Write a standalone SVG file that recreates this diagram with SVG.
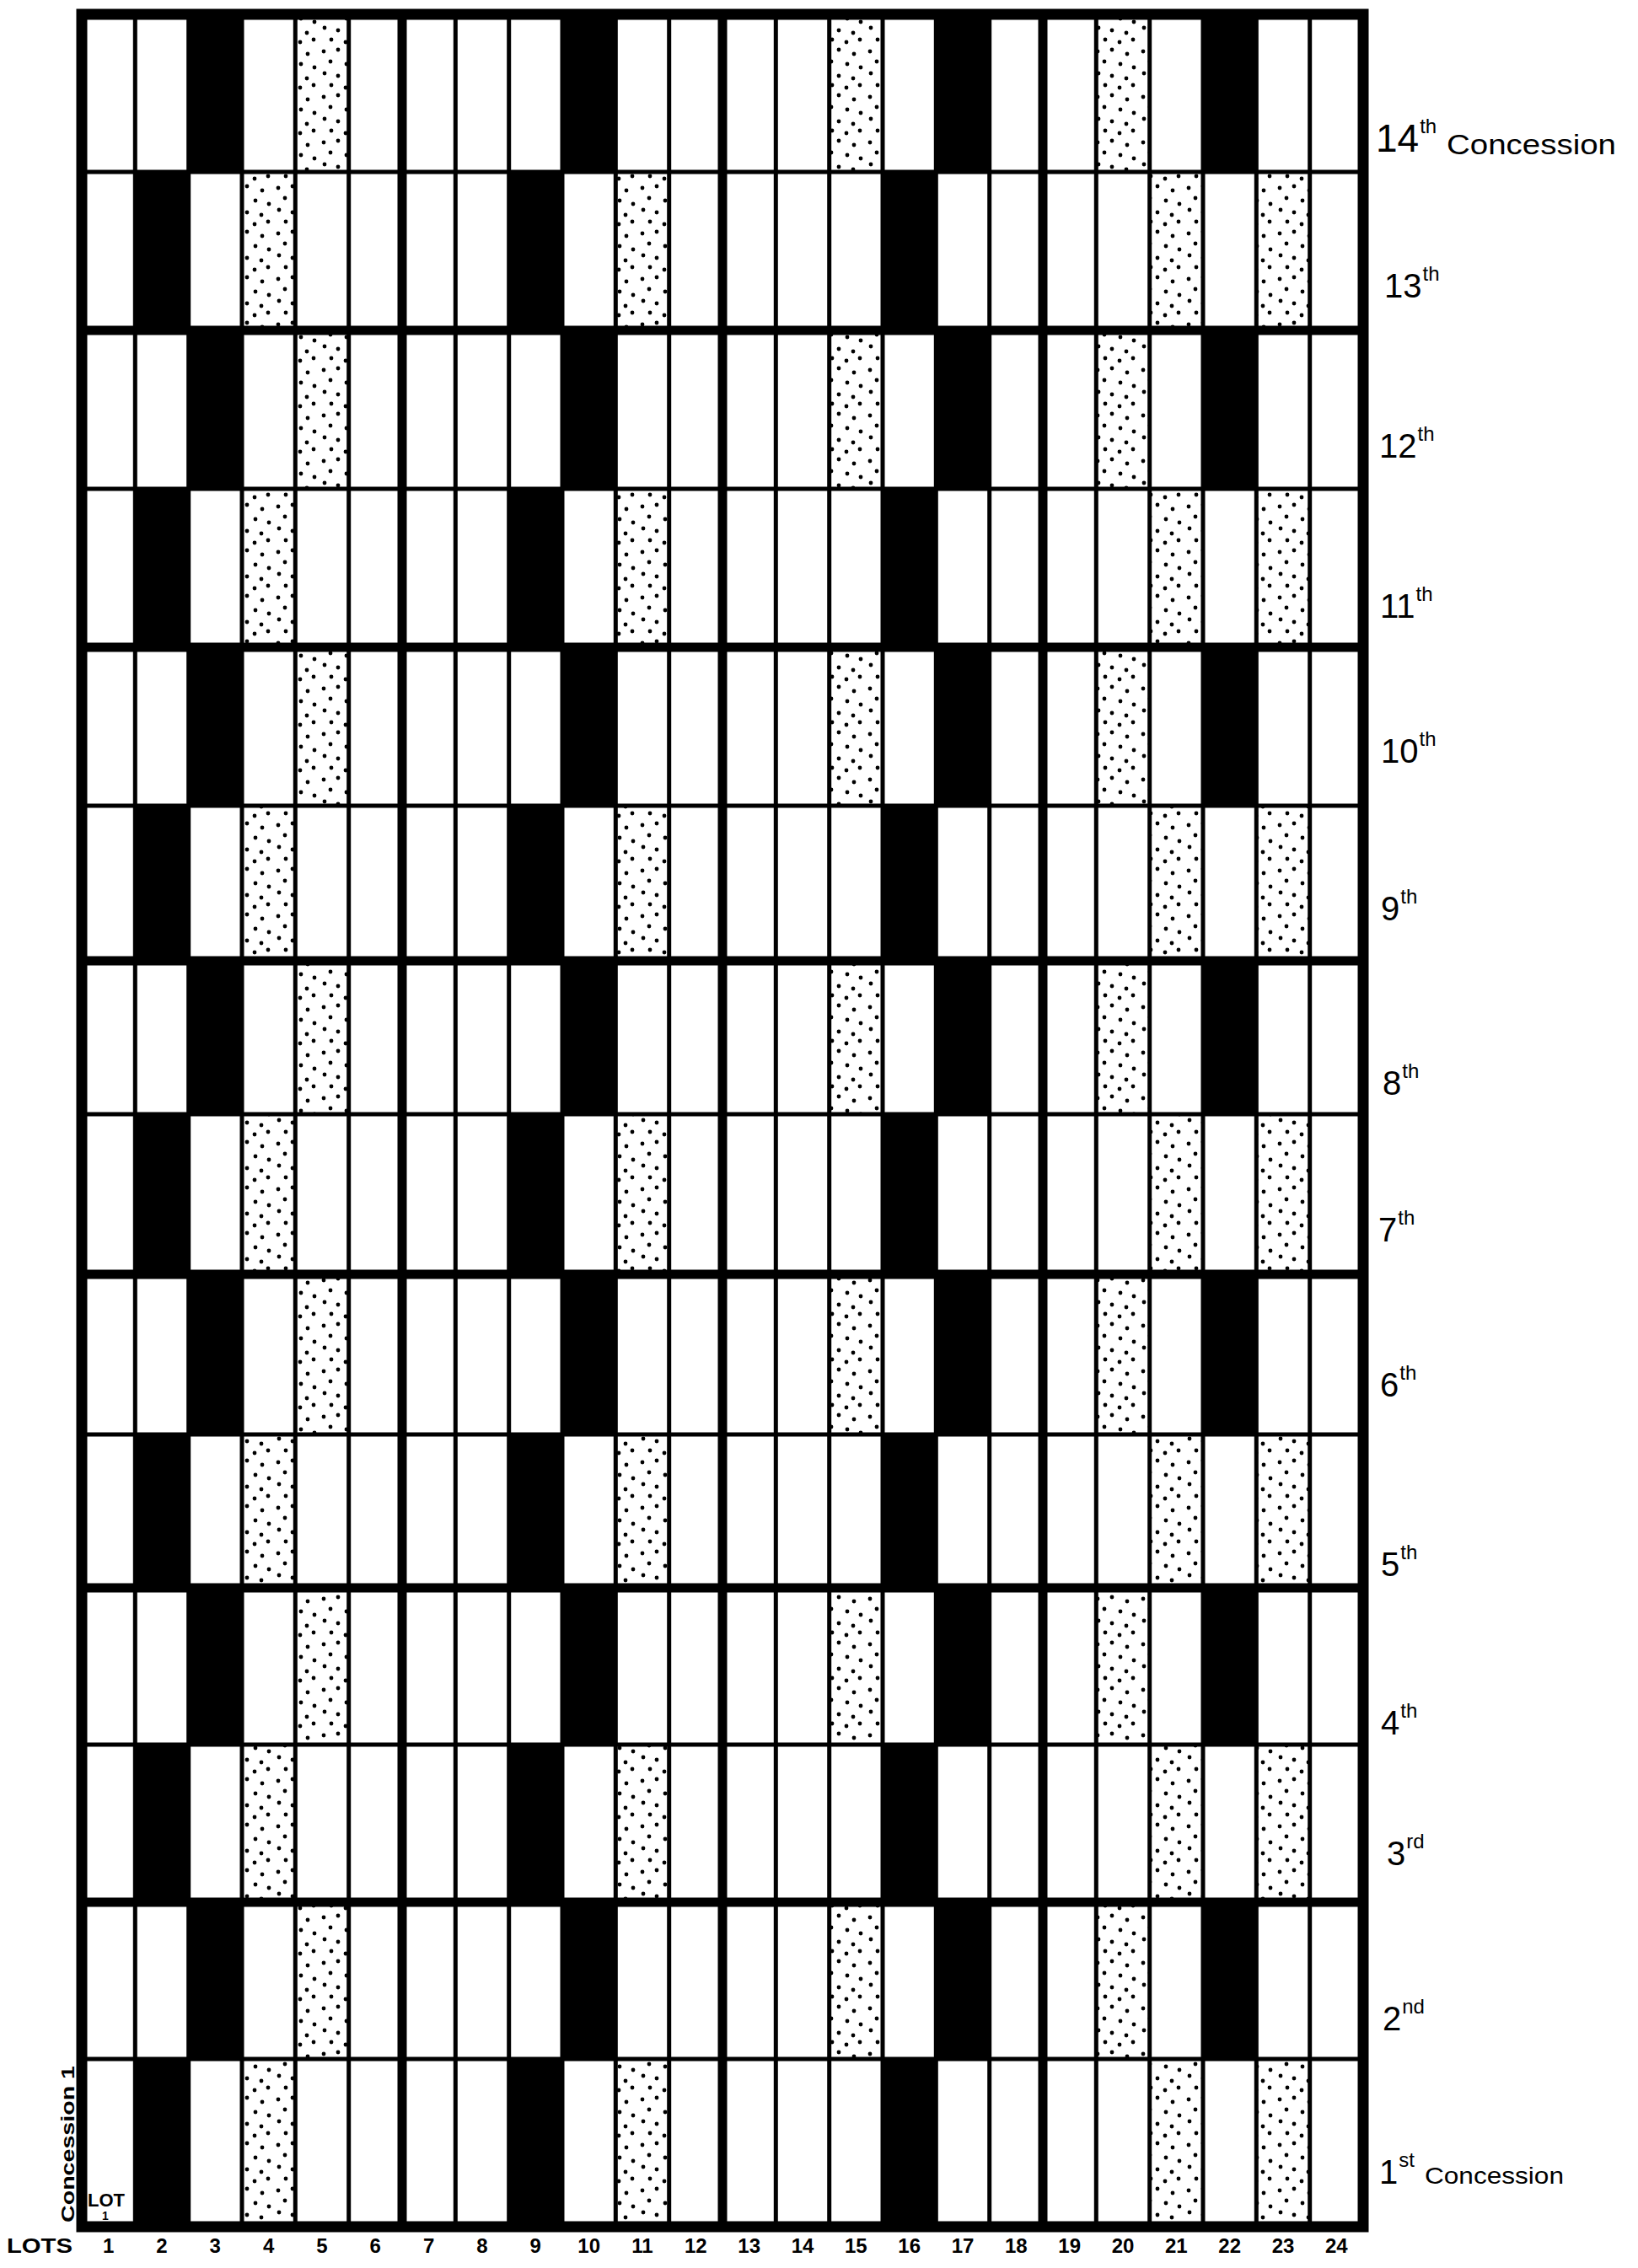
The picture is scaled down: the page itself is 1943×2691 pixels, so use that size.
<svg xmlns="http://www.w3.org/2000/svg" width="1943" height="2691" viewBox="0 0 1943 2691">
<style>
.b{fill:#000}
.d{fill:url(#dots)}
.thin{stroke:#000;stroke-width:5;fill:none}
.thick{stroke:#000;stroke-width:11;fill:none}
.border{stroke:#000;stroke-width:13;fill:none}
.lab{font-family:"Liberation Sans",Arial,sans-serif;font-size:40px;fill:#000}
.sup{font-size:24px}
.con{font-family:"Liberation Sans",Arial,sans-serif;fill:#000}
.lot{font-family:"Liberation Sans",Arial,sans-serif;font-size:24px;font-weight:bold;fill:#000;text-anchor:middle}
</style>
<defs>
<pattern id="dots" patternUnits="userSpaceOnUse" width="54" height="54">
<rect width="54" height="54" fill="#fff"/>
<g fill="#000">
<circle cx="6" cy="7" r="2.4"/><circle cx="23" cy="5" r="2.4"/><circle cx="41" cy="10" r="2.4"/>
<circle cx="14" cy="19" r="2.4"/><circle cx="33" cy="22" r="2.4"/><circle cx="49" cy="26" r="2.4"/>
<circle cx="7" cy="33" r="2.4"/><circle cx="23" cy="36" r="2.4"/><circle cx="40" cy="39" r="2.4"/>
<circle cx="15" cy="47" r="2.4"/><circle cx="32" cy="50" r="2.4"/><circle cx="48" cy="47" r="2.4"/>
</g>
</pattern>
</defs>
<rect width="1943" height="2691" fill="#fff"/>

<g id="concession-14"><rect class="b" x="223.7" y="17" width="63.4" height="187"/><rect class="d" x="350.3" y="17" width="63.4" height="187"/><rect class="b" x="667" y="17" width="63.4" height="187"/><rect class="d" x="983.7" y="17" width="63.4" height="187"/><rect class="b" x="1110.3" y="17" width="63.4" height="187"/><rect class="d" x="1300.3" y="17" width="63.4" height="187"/><rect class="b" x="1427" y="17" width="63.4" height="187"/></g>
<g id="concession-13"><rect class="b" x="160.3" y="204" width="63.4" height="188"/><rect class="d" x="287" y="204" width="63.4" height="188"/><rect class="b" x="603.7" y="204" width="63.4" height="188"/><rect class="d" x="730.3" y="204" width="63.4" height="188"/><rect class="b" x="1047" y="204" width="63.4" height="188"/><rect class="d" x="1363.7" y="204" width="63.4" height="188"/><rect class="d" x="1490.3" y="204" width="63.4" height="188"/></g>
<g id="concession-12"><rect class="b" x="223.7" y="392" width="63.4" height="188"/><rect class="d" x="350.3" y="392" width="63.4" height="188"/><rect class="b" x="667" y="392" width="63.4" height="188"/><rect class="d" x="983.7" y="392" width="63.4" height="188"/><rect class="b" x="1110.3" y="392" width="63.4" height="188"/><rect class="d" x="1300.3" y="392" width="63.4" height="188"/><rect class="b" x="1427" y="392" width="63.4" height="188"/></g>
<g id="concession-11"><rect class="b" x="160.3" y="580" width="63.4" height="188"/><rect class="d" x="287" y="580" width="63.4" height="188"/><rect class="b" x="603.7" y="580" width="63.4" height="188"/><rect class="d" x="730.3" y="580" width="63.4" height="188"/><rect class="b" x="1047" y="580" width="63.4" height="188"/><rect class="d" x="1363.7" y="580" width="63.4" height="188"/><rect class="d" x="1490.3" y="580" width="63.4" height="188"/></g>
<g id="concession-10"><rect class="b" x="223.7" y="768" width="63.4" height="188"/><rect class="d" x="350.3" y="768" width="63.4" height="188"/><rect class="b" x="667" y="768" width="63.4" height="188"/><rect class="d" x="983.7" y="768" width="63.4" height="188"/><rect class="b" x="1110.3" y="768" width="63.4" height="188"/><rect class="d" x="1300.3" y="768" width="63.4" height="188"/><rect class="b" x="1427" y="768" width="63.4" height="188"/></g>
<g id="concession-9"><rect class="b" x="160.3" y="956" width="63.4" height="184"/><rect class="d" x="287" y="956" width="63.4" height="184"/><rect class="b" x="603.7" y="956" width="63.4" height="184"/><rect class="d" x="730.3" y="956" width="63.4" height="184"/><rect class="b" x="1047" y="956" width="63.4" height="184"/><rect class="d" x="1363.7" y="956" width="63.4" height="184"/><rect class="d" x="1490.3" y="956" width="63.4" height="184"/></g>
<g id="concession-8"><rect class="b" x="223.7" y="1140" width="63.4" height="182"/><rect class="d" x="350.3" y="1140" width="63.4" height="182"/><rect class="b" x="667" y="1140" width="63.4" height="182"/><rect class="d" x="983.7" y="1140" width="63.4" height="182"/><rect class="b" x="1110.3" y="1140" width="63.4" height="182"/><rect class="d" x="1300.3" y="1140" width="63.4" height="182"/><rect class="b" x="1427" y="1140" width="63.4" height="182"/></g>
<g id="concession-7"><rect class="b" x="160.3" y="1322" width="63.4" height="190"/><rect class="d" x="287" y="1322" width="63.4" height="190"/><rect class="b" x="603.7" y="1322" width="63.4" height="190"/><rect class="d" x="730.3" y="1322" width="63.4" height="190"/><rect class="b" x="1047" y="1322" width="63.4" height="190"/><rect class="d" x="1363.7" y="1322" width="63.4" height="190"/><rect class="d" x="1490.3" y="1322" width="63.4" height="190"/></g>
<g id="concession-6"><rect class="b" x="223.7" y="1512" width="63.4" height="190"/><rect class="d" x="350.3" y="1512" width="63.4" height="190"/><rect class="b" x="667" y="1512" width="63.4" height="190"/><rect class="d" x="983.7" y="1512" width="63.4" height="190"/><rect class="b" x="1110.3" y="1512" width="63.4" height="190"/><rect class="d" x="1300.3" y="1512" width="63.4" height="190"/><rect class="b" x="1427" y="1512" width="63.4" height="190"/></g>
<g id="concession-5"><rect class="b" x="160.3" y="1702" width="63.4" height="182"/><rect class="d" x="287" y="1702" width="63.4" height="182"/><rect class="b" x="603.7" y="1702" width="63.4" height="182"/><rect class="d" x="730.3" y="1702" width="63.4" height="182"/><rect class="b" x="1047" y="1702" width="63.4" height="182"/><rect class="d" x="1363.7" y="1702" width="63.4" height="182"/><rect class="d" x="1490.3" y="1702" width="63.4" height="182"/></g>
<g id="concession-4"><rect class="b" x="223.7" y="1884" width="63.4" height="186"/><rect class="d" x="350.3" y="1884" width="63.4" height="186"/><rect class="b" x="667" y="1884" width="63.4" height="186"/><rect class="d" x="983.7" y="1884" width="63.4" height="186"/><rect class="b" x="1110.3" y="1884" width="63.4" height="186"/><rect class="d" x="1300.3" y="1884" width="63.4" height="186"/><rect class="b" x="1427" y="1884" width="63.4" height="186"/></g>
<g id="concession-3"><rect class="b" x="160.3" y="2070" width="63.4" height="187"/><rect class="d" x="287" y="2070" width="63.4" height="187"/><rect class="b" x="603.7" y="2070" width="63.4" height="187"/><rect class="d" x="730.3" y="2070" width="63.4" height="187"/><rect class="b" x="1047" y="2070" width="63.4" height="187"/><rect class="d" x="1363.7" y="2070" width="63.4" height="187"/><rect class="d" x="1490.3" y="2070" width="63.4" height="187"/></g>
<g id="concession-2"><rect class="b" x="223.7" y="2257" width="63.4" height="186"/><rect class="d" x="350.3" y="2257" width="63.4" height="186"/><rect class="b" x="667" y="2257" width="63.4" height="186"/><rect class="d" x="983.7" y="2257" width="63.4" height="186"/><rect class="b" x="1110.3" y="2257" width="63.4" height="186"/><rect class="d" x="1300.3" y="2257" width="63.4" height="186"/><rect class="b" x="1427" y="2257" width="63.4" height="186"/></g>
<g id="concession-1"><rect class="b" x="160.3" y="2443" width="63.4" height="199"/><rect class="d" x="287" y="2443" width="63.4" height="199"/><rect class="b" x="603.7" y="2443" width="63.4" height="199"/><rect class="d" x="730.3" y="2443" width="63.4" height="199"/><rect class="b" x="1047" y="2443" width="63.4" height="199"/><rect class="d" x="1363.7" y="2443" width="63.4" height="199"/><rect class="d" x="1490.3" y="2443" width="63.4" height="199"/></g>

<g id="grid-lines">
<path class="thin" d="M160.3 17V2642M223.7 17V2642M287 17V2642M350.3 17V2642M413.7 17V2642M540.3 17V2642M603.7 17V2642M667 17V2642M730.3 17V2642M793.7 17V2642M920.3 17V2642M983.7 17V2642M1047 17V2642M1110.3 17V2642M1173.7 17V2642M1300.3 17V2642M1363.7 17V2642M1427 17V2642M1490.3 17V2642M1553.7 17V2642"/>
<path class="thick" d="M477 17V2642M857 17V2642M1237 17V2642"/>
<path class="thin" d="M97 204H1617M97 580H1617M97 956H1617M97 1322H1617M97 1702H1617M97 2070H1617M97 2443H1617"/>
<path class="thick" d="M97 392H1617M97 768H1617M97 1140H1617M97 1512H1617M97 1884H1617M97 2257H1617"/>
<rect class="border" x="97" y="17" width="1520" height="2625"/>
</g>

<g id="concession-labels">
<text class="lab" x="1632" y="180" style="font-size:46px">14<tspan class="sup" dx="1" dy="-22">th</tspan></text>
<text class="con" x="1716" y="183" font-size="34" textLength="201" lengthAdjust="spacingAndGlyphs">Concession</text>
<text class="lab" x="1642" y="353">13<tspan class="sup" dx="1" dy="-20">th</tspan></text>
<text class="lab" x="1636" y="543">12<tspan class="sup" dx="1" dy="-20">th</tspan></text>
<text class="lab" x="1637" y="733">11<tspan class="sup" dx="1" dy="-20">th</tspan></text>
<text class="lab" x="1638" y="905">10<tspan class="sup" dx="1" dy="-20">th</tspan></text>
<text class="lab" x="1638" y="1092">9<tspan class="sup" dx="1" dy="-20">th</tspan></text>
<text class="lab" x="1640" y="1299">8<tspan class="sup" dx="1" dy="-20">th</tspan></text>
<text class="lab" x="1635" y="1473">7<tspan class="sup" dx="1" dy="-20">th</tspan></text>
<text class="lab" x="1637" y="1657">6<tspan class="sup" dx="1" dy="-20">th</tspan></text>
<text class="lab" x="1638" y="1870">5<tspan class="sup" dx="1" dy="-20">th</tspan></text>
<text class="lab" x="1638" y="2058">4<tspan class="sup" dx="1" dy="-20">th</tspan></text>
<text class="lab" x="1645" y="2213">3<tspan class="sup" dx="1" dy="-20">rd</tspan></text>
<text class="lab" x="1640" y="2409">2<tspan class="sup" dx="1" dy="-20">nd</tspan></text>
<text class="lab" x="1636" y="2591">1<tspan class="sup" dx="1" dy="-20">st</tspan></text>
<text class="con" x="1690" y="2591" font-size="28" textLength="165" lengthAdjust="spacingAndGlyphs">Concession</text>
</g>

<g id="lot-labels">
<text class="lot" x="47" y="2673" textLength="78" lengthAdjust="spacingAndGlyphs">LOTS</text>
<text class="lot" x="128.7" y="2673">1</text><text class="lot" x="192" y="2673">2</text><text class="lot" x="255.3" y="2673">3</text><text class="lot" x="318.7" y="2673">4</text><text class="lot" x="382" y="2673">5</text><text class="lot" x="445.3" y="2673">6</text><text class="lot" x="508.7" y="2673">7</text><text class="lot" x="572" y="2673">8</text><text class="lot" x="635.3" y="2673">9</text><text class="lot" x="698.7" y="2673">10</text><text class="lot" x="762" y="2673">11</text><text class="lot" x="825.3" y="2673">12</text><text class="lot" x="888.7" y="2673">13</text><text class="lot" x="952" y="2673">14</text><text class="lot" x="1015.3" y="2673">15</text><text class="lot" x="1078.7" y="2673">16</text><text class="lot" x="1142" y="2673">17</text><text class="lot" x="1205.3" y="2673">18</text><text class="lot" x="1268.7" y="2673">19</text><text class="lot" x="1332" y="2673">20</text><text class="lot" x="1395.3" y="2673">21</text><text class="lot" x="1458.7" y="2673">22</text><text class="lot" x="1522" y="2673">23</text><text class="lot" x="1585.3" y="2673">24</text>
</g>

<g id="key">
<text class="con" transform="translate(88,2637) rotate(-90)" font-size="22" font-weight="bold" textLength="186" lengthAdjust="spacingAndGlyphs">Concession 1</text>
<text class="con" x="104" y="2618" font-size="22" font-weight="bold" textLength="44" lengthAdjust="spacingAndGlyphs">LOT</text>
<text class="con" x="125" y="2634" font-size="14" font-weight="bold" text-anchor="middle">1</text>
</g>
</svg>
